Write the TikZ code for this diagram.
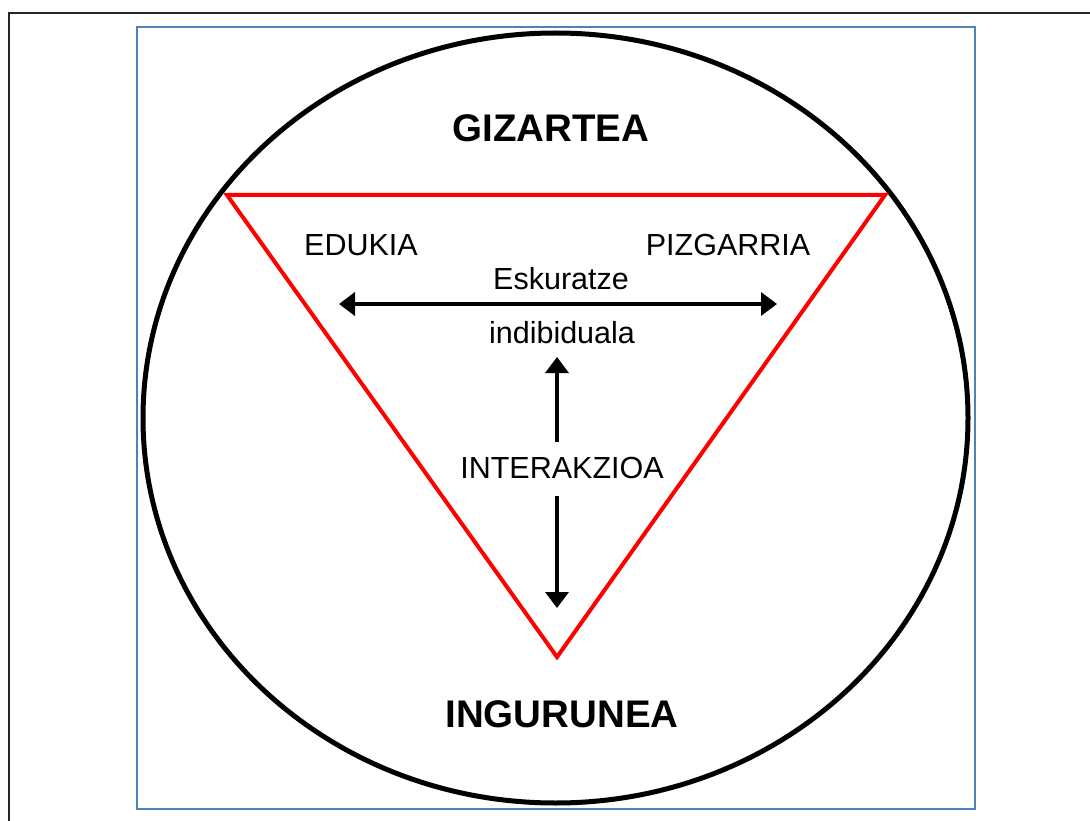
\documentclass[tikz,border=0pt]{standalone}
\usepackage{fontspec}
\setmainfont{Liberation Sans}
\usetikzlibrary{arrows.meta}
\definecolor{frameblue}{RGB}{79,129,189}
\tikzset{
    label/.style={font=\fontsize{30.5}{36}\selectfont, inner sep=0pt},
    title/.style={font=\fontsize{38.5}{46}\selectfont\bfseries, inner sep=0pt},
    twoway/.style={{Triangle[width=23pt,length=16pt]}-{Triangle[width=23pt,length=16pt]}, line width=3.5pt},
    oneway/.style={-{Triangle[width=23pt,length=16pt]}, line width=3.5pt}
}
\begin{document}
\begin{tikzpicture}[x=1pt, y=-1pt]
    \useasboundingbox (0,0) rectangle (1090,821);

    % Page frame and text box
    \draw[line width=2pt, black!85] (9,821) -- (9,13.5) -- (1090,13.5);
    \draw[line width=1.6pt, frameblue] (137,27) rectangle (975,809);

    % Society circle
    \draw[line width=5pt] (555.5,418) ellipse (412.5 and 385);

    % Red triangle
    \draw[line width=4pt, red, line join=miter] (227,195) -- (885,195) -- (557,657) -- cycle;

    % Labels
    \node[title] (gizartea) at (551,128) {GIZARTEA};
    \node[title] (ingurunea) at (562,714) {INGURUNEA};
    \node[label] (edukia) at (361,245) {EDUKIA};
    \node[label] (pizgarria) at (728,245) {PIZGARRIA};
    \node[label] (eskuratze) at (561,279) {Eskuratze};
    \node[label] (indibiduala) at (562,333) {indibiduala};
    \node[label] (interakzioa) at (562,468) {INTERAKZIOA};

    % Arrows
    \coordinate (left) at (339,304);
    \coordinate (right) at (777,304);
    \coordinate (up) at (557,357);
    \coordinate (down) at (557,608);
    \draw[twoway] (left) -- (right);
    \draw[oneway] (interakzioa.north -| up) ++(0,-15) -- (up);
    \draw[oneway] (interakzioa.south -| down) ++(0,17) -- (down);
\end{tikzpicture}
\end{document}
